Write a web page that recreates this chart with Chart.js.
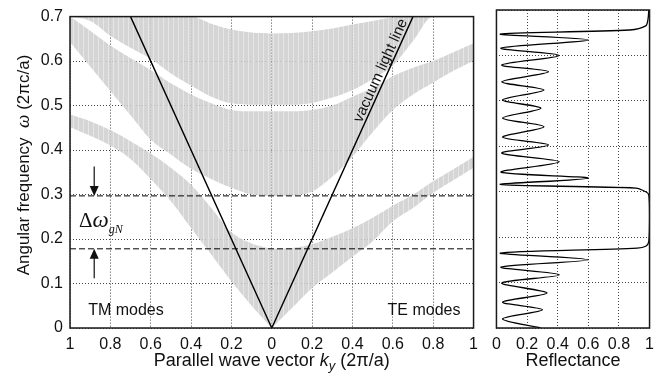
<!DOCTYPE html>
<html>
<head>
<meta charset="utf-8">
<script src="https://cdn.jsdelivr.net/npm/chart.js@4.4.1/dist/chart.umd.min.js"></script>
<style>
  body { margin: 0; background: #fff; }
  #wrap { position: relative; width: 661px; height: 376px; }
  canvas { position: absolute; top: 0; }
  #bands { left: 0; }
  #refl { left: 485px; }
</style>
</head>
<body>
<div id="wrap">
  <canvas id="bands" width="485" height="376"></canvas>
  <canvas id="refl" width="176" height="376"></canvas>
</div>
<script>
// parallel wave vector samples (2pi/a), both sides of the plot
const kGrid = [0, 0.1, 0.2, 0.3, 0.4, 0.5, 0.6, 0.7, 0.8, 0.9, 1.0];

// TM modes (left half), band edges in omega (2pi c/a)
const tmBand1Low  = [0, 0.05, 0.105, 0.165, 0.225, 0.285, 0.335, 0.38, 0.41, 0.432, 0.452];
const tmBand1High = [0.178, 0.19, 0.215, 0.27, 0.322, 0.36, 0.392, 0.42, 0.445, 0.465, 0.48];
const tmBand2Low  = [0.297, 0.30, 0.315, 0.335, 0.358, 0.39, 0.423, 0.478, 0.533, 0.588, 0.643];
const tmBand2High = [0.487, 0.487, 0.49, 0.505, 0.525, 0.55, 0.58, 0.607, 0.635, 0.668, 0.70];
const tmBand3Low  = [0.502, 0.502, 0.505, 0.52, 0.545, 0.572, 0.605, 0.63, 0.657, 0.69, 0.70];
const tmBand3High = [0.662, 0.664, 0.671, 0.684, 0.70, 0.70, 0.70, 0.70, 0.70, 0.70, 0.70];

// TE modes (right half)
const teBand1Low  = [0, 0.045, 0.09, 0.125, 0.16, 0.195, 0.24, 0.27, 0.304, 0.332, 0.36];
const teBand1High = [0.178, 0.18, 0.188, 0.205, 0.224, 0.248, 0.275, 0.30, 0.33, 0.357, 0.385];
const teBand2Low  = [0.297, 0.298, 0.307, 0.34, 0.385, 0.44, 0.49, 0.525, 0.552, 0.578, 0.60];
const teBand2High = [0.487, 0.487, 0.49, 0.50, 0.52, 0.54, 0.566, 0.585, 0.60, 0.62, 0.64];
const teBand3Low  = [0.502, 0.502, 0.506, 0.518, 0.535, 0.56, 0.59, 0.645, 0.70, 0.70, 0.70];
const teBand3High = [0.662, 0.663, 0.667, 0.673, 0.682, 0.69, 0.698, 0.70, 0.70, 0.70, 0.70];

// vacuum light line and omnidirectional gap edges
const lightK = [-0.7, 0, 0.7];
const lightW = [0.7, 0, 0.7];
const gapTop = 0.297;
const gapBottom = 0.178;

// reflectance spectrum (omega ascending)
const reflOmega = [0.0, 0.02, 0.04, 0.057, 0.077, 0.099, 0.117, 0.134, 0.15, 0.165,
  0.176, 0.18, 0.19, 0.25, 0.293, 0.30, 0.308, 0.316, 0.33, 0.343,
  0.366, 0.385, 0.403, 0.42, 0.443, 0.462, 0.484, 0.502, 0.524, 0.542,
  0.564, 0.579, 0.60, 0.616, 0.634, 0.647, 0.656, 0.665, 0.68, 0.70];
const reflValue = [0.29, 0.04, 0.30, 0.04, 0.33, 0.035, 0.41, 0.03, 0.60, 0.025,
  0.92, 0.975, 0.995, 1.0, 0.995, 0.975, 0.91, 0.025, 0.60, 0.03,
  0.41, 0.035, 0.34, 0.04, 0.31, 0.04, 0.29, 0.04, 0.31, 0.035,
  0.34, 0.035, 0.41, 0.03, 0.60, 0.025, 0.87, 0.975, 0.99, 0.995];

const SANS = '"Liberation Sans", Arial, sans-serif';
const SERIF = '"Liberation Serif", "Times New Roman", serif';
const INK = '#111';

// striped grey fill like the hatched bands
const tile = document.createElement('canvas');
tile.width = 5; tile.height = 1;
const tctx = tile.getContext('2d');
tctx.fillStyle = 'rgba(206,206,206,0.85)';
tctx.fillRect(0, 0, 5, 1);
tctx.fillStyle = 'rgba(234,234,234,0.85)';
tctx.fillRect(3, 0, 1, 1);
const bandFill = tctx.createPattern(tile, 'repeat');

function edge(side, values) {
  const pts = kGrid.map((k, i) => ({ x: side * k, y: values[i] }));
  return side < 0 ? pts.reverse() : pts;
}

const datasets = [
  { data: lightK.map((k, i) => ({ x: k, y: lightW[i] })), borderColor: '#000', borderWidth: 1.4 },
  { data: [{ x: -1, y: gapTop }, { x: 1, y: gapTop }], borderColor: '#000', borderWidth: 1, borderDash: [6, 3] },
  { data: [{ x: -1, y: gapBottom }, { x: 1, y: gapBottom }], borderColor: '#000', borderWidth: 1, borderDash: [6, 3] },
];

[
  [tmBand1Low, tmBand1High, -1], [tmBand2Low, tmBand2High, -1], [tmBand3Low, tmBand3High, -1],
  [teBand1Low, teBand1High, 1], [teBand2Low, teBand2High, 1], [teBand3Low, teBand3High, 1],
].forEach(([lo, hi, side]) => {
  const loIndex = datasets.length;
  datasets.push({ data: edge(side, lo), borderWidth: 0, borderColor: 'transparent', fill: false,
    cubicInterpolationMode: 'monotone' });
  datasets.push({ data: edge(side, hi), borderWidth: 0, borderColor: 'transparent', fill: loIndex,
    backgroundColor: bandFill, cubicInterpolationMode: 'monotone' });
});

function drawRuns(ctx, runs, x, y, center) {
  let w = 0;
  runs.forEach(r => { ctx.font = r.font; w += ctx.measureText(r.text).width; });
  let cx = center ? x - w / 2 : x;
  runs.forEach(r => {
    ctx.font = r.font;
    ctx.fillText(r.text, cx, y + (r.dy || 0));
    cx += ctx.measureText(r.text).width;
  });
}

function arrow(ctx, x, y0, y1) {
  const dir = Math.sign(y1 - y0);
  ctx.beginPath();
  ctx.moveTo(x, y0);
  ctx.lineTo(x, y1 - dir * 8);
  ctx.stroke();
  ctx.beginPath();
  ctx.moveTo(x, y1);
  ctx.lineTo(x - 4.5, y1 - dir * 10);
  ctx.lineTo(x + 4.5, y1 - dir * 10);
  ctx.closePath();
  ctx.fill();
}

const frame = {
  id: 'frame',
  afterDraw(chart) {
    const { ctx, chartArea: a } = chart;
    ctx.save();
    ctx.strokeStyle = '#1a1a1a';
    ctx.lineWidth = 1.5;
    ctx.strokeRect(a.left, a.top, a.right - a.left, a.bottom - a.top);
    ctx.restore();
  }
};

const bandNotes = {
  id: 'bandNotes',
  afterDraw(chart) {
    const { ctx, chartArea: a, scales: { x, y } } = chart;
    ctx.save();
    ctx.fillStyle = INK;
    ctx.strokeStyle = INK;
    ctx.lineWidth = 1.2;
    ctx.textAlign = 'left';
    ctx.textBaseline = 'alphabetic';

    const ax = x.getPixelForValue(-0.88);
    arrow(ctx, ax, y.getPixelForValue(0.363), y.getPixelForValue(gapTop));
    arrow(ctx, ax, y.getPixelForValue(0.112), y.getPixelForValue(gapBottom));

    drawRuns(ctx, [
      { text: 'Δ', font: '21px ' + SERIF },
      { text: 'ω', font: 'italic 23px ' + SERIF },
      { text: 'gN', font: 'italic 12px ' + SERIF, dy: 6 },
    ], x.getPixelForValue(-0.955), y.getPixelForValue(0.227), false);

    ctx.font = '16px ' + SANS;
    ctx.fillText('TM modes', x.getPixelForValue(-0.91), y.getPixelForValue(0.029));
    ctx.fillText('TE modes', x.getPixelForValue(0.574), y.getPixelForValue(0.029));

    // label along the vacuum light line
    const p0x = x.getPixelForValue(0), p0y = y.getPixelForValue(0);
    const p1x = x.getPixelForValue(0.7), p1y = y.getPixelForValue(0.7);
    const ang = Math.atan2(p1y - p0y, p1x - p0x);
    ctx.save();
    ctx.translate(x.getPixelForValue(0.572), y.getPixelForValue(0.572));
    ctx.rotate(ang);
    ctx.font = '15px ' + SANS;
    ctx.textAlign = 'center';
    ctx.fillText('vacuum light line', 0, -3);
    ctx.restore();

    // axis titles
    ctx.save();
    ctx.translate(29, 165);
    ctx.rotate(-Math.PI / 2);
    drawRuns(ctx, [
      { text: 'Angular frequency  ', font: '17px ' + SANS },
      { text: 'ω', font: 'italic 19px ' + SERIF },
      { text: ' (2πc/a)', font: '17px ' + SANS },
    ], 0, 0, true);
    ctx.restore();

    drawRuns(ctx, [
      { text: 'Parallel wave vector ', font: '18px ' + SANS },
      { text: 'k', font: 'italic 18px ' + SANS },
      { text: 'y', font: 'italic 13px ' + SANS, dy: 4 },
      { text: ' (2π/a)', font: '18px ' + SANS },
    ], (a.left + a.right) / 2, 366, true);
    ctx.restore();
  }
};

const reflNotes = {
  id: 'reflNotes',
  afterDraw(chart) {
    const { ctx, chartArea: a } = chart;
    ctx.save();
    ctx.fillStyle = INK;
    ctx.textAlign = 'left';
    drawRuns(ctx, [{ text: 'Reflectance', font: '18px ' + SANS }], (a.left + a.right) / 2, 366, true);
    ctx.restore();
  }
};

const gridOpts = { color: '#444', lineWidth: 1, drawTicks: false };
const borderOpts = { display: false, dash: [1, 2] };
const tickFont = { family: SANS, size: 16 };
const fmt = v => String(Math.round(Math.abs(v) * 10) / 10);

new Chart(document.getElementById('bands'), {
  type: 'line',
  data: { datasets },
  options: {
    responsive: false,
    animation: false,
    layout: { padding: { top: 10, right: 8, left: 0, bottom: 0 } },
    plugins: { legend: { display: false }, tooltip: { enabled: false } },
    elements: { point: { radius: 0 }, line: { tension: 0 } },
    scales: {
      x: {
        type: 'linear', min: -1, max: 1,
        afterFit: s => { s.height = 48; },
        ticks: { stepSize: 0.2, padding: 7, color: INK, font: tickFont, autoSkip: false, maxRotation: 0, callback: fmt },
        grid: gridOpts, border: borderOpts,
      },
      y: {
        type: 'linear', min: 0, max: 0.7,
        afterFit: s => { s.width = 70; },
        ticks: { stepSize: 0.1, padding: 7, color: INK, font: tickFont, callback: fmt },
        grid: gridOpts, border: borderOpts,
      },
    },
  },
  plugins: [frame, bandNotes],
});

new Chart(document.getElementById('refl'), {
  type: 'line',
  data: {
    datasets: [{
      data: reflOmega.map((w, i) => ({ x: reflValue[i], y: w })),
      borderColor: '#000', borderWidth: 1.3, tension: 0.3,
    }],
  },
  options: {
    responsive: false,
    animation: false,
    indexAxis: 'y',
    layout: { padding: { top: 10, right: 8, left: 0, bottom: 0 } },
    plugins: { legend: { display: false }, tooltip: { enabled: false } },
    elements: { point: { radius: 0 } },
    scales: {
      x: {
        type: 'linear', min: 0, max: 1,
        afterFit: s => { s.height = 48; },
        ticks: { stepSize: 0.2, padding: 7, color: INK, font: tickFont, autoSkip: false, maxRotation: 0, callback: fmt },
        grid: gridOpts, border: borderOpts,
      },
      y: {
        type: 'linear', min: 0, max: 0.7,
        afterFit: s => { s.width = 6; },
        ticks: { stepSize: 0.1, display: false },
        grid: gridOpts, border: borderOpts,
      },
    },
  },
  plugins: [frame, reflNotes],
});
</script>
</body>
</html>
